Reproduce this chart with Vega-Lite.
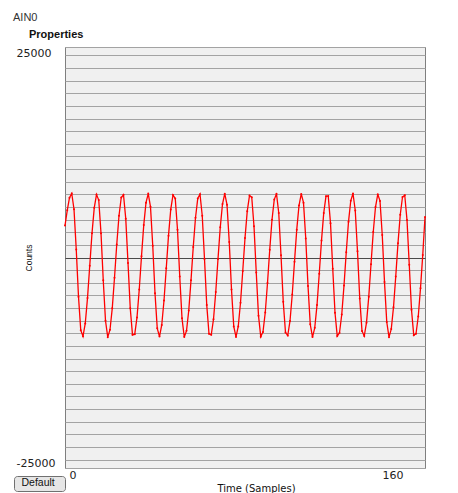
{
  "$schema": "https://vega.github.io/schema/vega-lite/v6.json",
  "width": 360,
  "height": 421,
  "autosize": {"type": "none"},
  "padding": {"left": 65, "top": 47, "right": 33, "bottom": 25},
  "background": "#ffffff",
  "title": {
    "text": "AIN0",
    "subtitle": "\u2800\u2800Properties",
    "anchor": "start",
    "frame": "group",
    "dx": -52,
    "offset": 7,
    "font": "Liberation Sans",
    "fontSize": 11,
    "fontWeight": "normal",
    "color": "#333333",
    "subtitleFont": "Liberation Sans",
    "subtitleFontSize": 11,
    "subtitleFontWeight": "bold",
    "subtitleColor": "#111111",
    "subtitlePadding": 6
  },
  "data": {
    "values": [
      {"sample": 0, "counts": 3800}, {"sample": 1, "counts": 5600}, {"sample": 2, "counts": 7100},
      {"sample": 3, "counts": 7600}, {"sample": 4, "counts": 5735}, {"sample": 5, "counts": 953},
      {"sample": 6, "counts": -4659}, {"sample": 7, "counts": -8628}, {"sample": 8, "counts": -9352},
      {"sample": 9, "counts": -7831}, {"sample": 10, "counts": -4822}, {"sample": 11, "counts": -970},
      {"sample": 12, "counts": 2885}, {"sample": 13, "counts": 5900}, {"sample": 14, "counts": 7478},
      {"sample": 15, "counts": 6820}, {"sample": 16, "counts": 2892}, {"sample": 17, "counts": -2700},
      {"sample": 18, "counts": -7518}, {"sample": 19, "counts": -9460}, {"sample": 20, "counts": -8575},
      {"sample": 21, "counts": -6041}, {"sample": 22, "counts": -2402}, {"sample": 23, "counts": 1551},
      {"sample": 24, "counts": 4961}, {"sample": 25, "counts": 7126}, {"sample": 26, "counts": 7448},
      {"sample": 27, "counts": 4616}, {"sample": 28, "counts": -642}, {"sample": 29, "counts": -6032},
      {"sample": 30, "counts": -9186}, {"sample": 31, "counts": -9102}, {"sample": 32, "counts": -7114},
      {"sample": 33, "counts": -3794}, {"sample": 34, "counts": 147}, {"sample": 35, "counts": 3848},
      {"sample": 36, "counts": 6510}, {"sample": 37, "counts": 7596}, {"sample": 38, "counts": 6013},
      {"sample": 39, "counts": 1396}, {"sample": 40, "counts": -4239}, {"sample": 41, "counts": -8416},
      {"sample": 42, "counts": -9397}, {"sample": 43, "counts": -8014}, {"sample": 44, "counts": -5104},
      {"sample": 45, "counts": -1290}, {"sample": 46, "counts": 2596}, {"sample": 47, "counts": 5707},
      {"sample": 48, "counts": 7420}, {"sample": 49, "counts": 6998}, {"sample": 50, "counts": 3300},
      {"sample": 51, "counts": -2247}, {"sample": 52, "counts": -7220}, {"sample": 53, "counts": -9440},
      {"sample": 54, "counts": -8712}, {"sample": 55, "counts": -6293}, {"sample": 56, "counts": -2716},
      {"sample": 57, "counts": 1243}, {"sample": 58, "counts": 4727}, {"sample": 59, "counts": 7006},
      {"sample": 60, "counts": 7522}, {"sample": 61, "counts": 4957}, {"sample": 62, "counts": -182},
      {"sample": 63, "counts": -5654}, {"sample": 64, "counts": -9053}, {"sample": 65, "counts": -9188},
      {"sample": 66, "counts": -7331}, {"sample": 67, "counts": -4095}, {"sample": 68, "counts": -171},
      {"sample": 69, "counts": 3582}, {"sample": 70, "counts": 6348}, {"sample": 71, "counts": 7580},
      {"sample": 72, "counts": 6270}, {"sample": 73, "counts": 1830}, {"sample": 74, "counts": -3809},
      {"sample": 75, "counts": -8184}, {"sample": 76, "counts": -9430}, {"sample": 77, "counts": -8187},
      {"sample": 78, "counts": -5380}, {"sample": 79, "counts": -1609}, {"sample": 80, "counts": 2304},
      {"sample": 81, "counts": 5506}, {"sample": 82, "counts": 7352}, {"sample": 83, "counts": 7156},
      {"sample": 84, "counts": 3698}, {"sample": 85, "counts": -1792}, {"sample": 86, "counts": -6905},
      {"sample": 87, "counts": -9399}, {"sample": 88, "counts": -8837}, {"sample": 89, "counts": -6538},
      {"sample": 90, "counts": -3028}, {"sample": 91, "counts": 934}, {"sample": 92, "counts": 4487},
      {"sample": 93, "counts": 6877}, {"sample": 94, "counts": 7572}, {"sample": 95, "counts": 5282},
      {"sample": 96, "counts": 276}, {"sample": 97, "counts": -5266}, {"sample": 98, "counts": -8911},
      {"sample": 99, "counts": -9262}, {"sample": 100, "counts": -7538}, {"sample": 101, "counts": -4390},
      {"sample": 102, "counts": -490}, {"sample": 103, "counts": 3307}, {"sample": 104, "counts": 6175},
      {"sample": 105, "counts": 7548}, {"sample": 106, "counts": 6507}, {"sample": 107, "counts": 2260},
      {"sample": 108, "counts": -3371}, {"sample": 109, "counts": -7931}, {"sample": 110, "counts": -9451},
      {"sample": 111, "counts": -8350}, {"sample": 112, "counts": -5651}, {"sample": 113, "counts": -1927},
      {"sample": 114, "counts": 2005}, {"sample": 115, "counts": 5294}, {"sample": 116, "counts": 7279},
      {"sample": 117, "counts": 7291}, {"sample": 118, "counts": 4080}, {"sample": 119, "counts": -1333},
      {"sample": 120, "counts": -6570}, {"sample": 121, "counts": -9333}, {"sample": 122, "counts": -8952},
      {"sample": 123, "counts": -6775}, {"sample": 124, "counts": -3335}, {"sample": 125, "counts": 621},
      {"sample": 126, "counts": 4237}, {"sample": 127, "counts": 6738}, {"sample": 128, "counts": 7597},
      {"sample": 129, "counts": 5589}, {"sample": 130, "counts": 730}, {"sample": 131, "counts": -4865},
      {"sample": 132, "counts": -8725}, {"sample": 133, "counts": -9325}, {"sample": 134, "counts": -7736},
      {"sample": 135, "counts": -4676}, {"sample": 136, "counts": -810}, {"sample": 137, "counts": 3027},
      {"sample": 138, "counts": 5992}, {"sample": 139, "counts": 7504}, {"sample": 140, "counts": 6721},
      {"sample": 141, "counts": 2682}, {"sample": 142, "counts": -2924}, {"sample": 143, "counts": -7658},
      {"sample": 144, "counts": -9460}, {"sample": 145, "counts": -8503}, {"sample": 146, "counts": -5912},
      {"sample": 147, "counts": -2243}, {"sample": 148, "counts": 1704}, {"sample": 149, "counts": 5075},
      {"sample": 150, "counts": 7182}, {"sample": 151, "counts": 7402}, {"sample": 152, "counts": 4439},
      {"sample": 153, "counts": -872}, {"sample": 154, "counts": -6215}, {"sample": 155, "counts": -9241},
      {"sample": 156, "counts": -9055}, {"sample": 157, "counts": -7003}, {"sample": 158, "counts": -3643},
      {"sample": 159, "counts": 306}, {"sample": 160, "counts": 4800}
    ]
  },
  "mark": {"type": "line", "strokeWidth": 1.3, "point": {"filled": true, "size": 4}},
  "encoding": {
    "x": {
      "field": "sample",
      "type": "quantitative",
      "scale": {"domain": [0, 160], "nice": false, "zero": false},
      "axis": {
        "values": [0, 160],
        "format": "d",
        "title": "Time (Samples)",
        "grid": false,
        "ticks": false,
        "tickSize": 0,
        "domain": false,
        "labelAlign": "left",
        "labelFlush": false,
        "labelOffset": {"condition": {"test": "datum.value == 160", "value": -43}, "value": 4},
        "labelPadding": 1,
        "labelBaseline": "top",
        "labelFont": "DejaVu Sans",
        "labelFontSize": 11,
        "labelColor": "#222222",
        "titleFont": "DejaVu Sans",
        "titleFontSize": 10,
        "titleFontWeight": "normal",
        "titleColor": "#111111",
        "titleX": 191,
        "titleY": 20,
        "titleAlign": "center",
        "titleBaseline": "middle"
      }
    },
    "y": {
      "field": "counts",
      "type": "quantitative",
      "scale": {"domain": [-25000, 25000], "nice": false},
      "axis": {
        "values": [-25000, -24000, -22500, -21000, -19500, -18000, -16500, -15000, -13500, -12000, -10500, -9000, -7500, -6000, -4500, -3000, -1500, 0, 1500, 3000, 4500, 6000, 7500, 9000, 10500, 12000, 13500, 15000, 16500, 18000, 19500, 21000, 22500, 24000, 25000],
        "title": "Counts",
        "labelExpr": "datum.value == 25000 ? '25000' : (datum.value == -25000 ? '-25000' : '')",
        "labelOverlap": false,
        "labelAlign": "left",
        "labelPadding": 49,
        "labelFlush": true,
        "ticks": false,
        "tickSize": 0,
        "domain": false,
        "grid": true,
        "gridColor": {"condition": {"test": "datum.value == 0", "value": "#4a4a4a"}, "value": "#a3a3a3"},
        "gridWidth": 1,
        "labelFont": "DejaVu Sans",
        "labelFontSize": 11,
        "labelColor": "#222222",
        "titleFont": "Liberation Sans",
        "titleFontSize": 8.5,
        "titleFontWeight": "normal",
        "titleColor": "#111111",
        "titleX": -37,
        "titleY": 210.5,
        "titleAngle": -90,
        "titleAlign": "center",
        "titleBaseline": "middle"
      }
    },
    "color": {
      "datum": "Default",
      "type": "nominal",
      "scale": {"range": ["#ff0000"]},
      "legend": {
        "orient": "none",
        "legendX": -51,
        "legendY": 429,
        "title": null,
        "symbolSize": 0,
        "symbolOpacity": 0,
        "symbolStrokeWidth": 0,
        "labelOffset": -5,
        "labelExpr": "datum.label + '\u2800'",
        "labelFont": "Liberation Sans",
        "labelFontSize": 10.5,
        "labelColor": "#111111",
        "fillColor": "#e6e6e6",
        "strokeColor": "#707070",
        "cornerRadius": 3,
        "padding": 2
      }
    }
  },
  "config": {
    "view": {"fill": "#f0f0f0", "stroke": "#7f7f7f", "strokeWidth": 1}
  }
}
